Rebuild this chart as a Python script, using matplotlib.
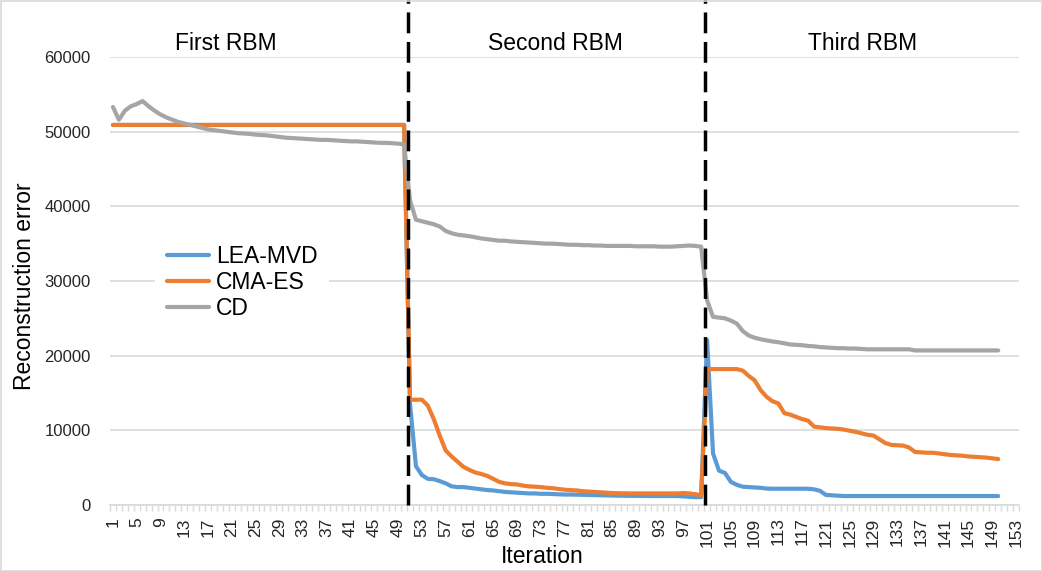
import matplotlib.pyplot as plt
import matplotlib.transforms as mtransforms
from matplotlib.patches import Rectangle
import numpy as np

plt.rcParams['font.family'] = ['Liberation Sans', 'DejaVu Sans']

# iteration numbers (category axis 1..153, data 1..150)
n_cats = 153
iterations = np.arange(1, 151)

lea_mvd = (
    [50900] * 50 +
    [13500, 5200, 4000, 3500, 3450, 3200, 2900, 2500, 2400, 2400,
     2300, 2200, 2100, 2000, 1950, 1850, 1750, 1700, 1650, 1600,
     1550, 1550, 1500, 1500, 1470, 1450, 1400, 1400, 1380, 1350,
     1340, 1320, 1300, 1280, 1260, 1250, 1240, 1220, 1210, 1200,
     1200, 1200, 1200, 1200, 1200, 1200, 1150, 1100, 1050, 1050] +
    [22100, 6900, 4600, 4300, 3100, 2700, 2450, 2400, 2350, 2300,
     2200, 2180, 2180, 2180, 2180, 2180, 2180, 2180, 2100, 1900,
     1350, 1300, 1250, 1200, 1200, 1200, 1200, 1200, 1200, 1200,
     1200, 1200, 1200, 1200, 1200, 1200, 1200, 1200, 1200, 1200,
     1200, 1200, 1200, 1200, 1200, 1200, 1200, 1200, 1200, 1200]
)

cma_es = (
    [50900] * 50 +
    [14100, 14100, 14100, 13300, 11500, 9300, 7300, 6500, 5800, 5100,
     4700, 4350, 4150, 3900, 3500, 3100, 2900, 2800, 2750, 2600,
     2500, 2450, 2400, 2300, 2250, 2150, 2050, 2000, 1950, 1850,
     1800, 1750, 1700, 1650, 1600, 1580, 1560, 1550, 1550, 1550,
     1550, 1550, 1550, 1550, 1550, 1550, 1600, 1550, 1450, 1300] +
    [18200, 18200, 18200, 18200, 18200, 18200, 18000, 17300, 16700, 15400,
     14500, 13900, 13600, 12300, 12100, 11800, 11500, 11300, 10500, 10400,
     10300, 10250, 10200, 10100, 9950, 9800, 9600, 9400, 9300, 8800,
     8300, 8050, 8000, 7950, 7700, 7100, 7050, 7000, 7000, 6900,
     6800, 6700, 6650, 6600, 6500, 6450, 6400, 6350, 6250, 6150]
)

cd = (
    [53300, 51600, 52800, 53400, 53700, 54100, 53400, 52800, 52300, 51900,
     51600, 51300, 51100, 50900, 50700, 50500, 50300, 50200, 50100, 50000,
     49900, 49800, 49750, 49700, 49600, 49550, 49500, 49400, 49300, 49200,
     49150, 49100, 49050, 49000, 48950, 48900, 48900, 48850, 48800, 48750,
     48700, 48700, 48650, 48600, 48550, 48500, 48500, 48450, 48400, 48300] +
    [40800, 38200, 38000, 37800, 37600, 37300, 36700, 36400, 36200, 36100,
     36000, 35850, 35700, 35600, 35500, 35400, 35400, 35300, 35250, 35200,
     35150, 35100, 35050, 35000, 35000, 34950, 34900, 34850, 34850, 34800,
     34800, 34750, 34750, 34700, 34700, 34700, 34700, 34700, 34650, 34650,
     34650, 34650, 34600, 34600, 34600, 34650, 34700, 34750, 34700, 34600] +
    [27400, 25200, 25100, 25000, 24700, 24300, 23300, 22700, 22400, 22200,
     22050, 21900, 21800, 21650, 21500, 21450, 21400, 21300, 21250, 21150,
     21100, 21050, 21000, 21000, 20950, 20950, 20900, 20850, 20850, 20850,
     20850, 20850, 20850, 20850, 20850, 20700, 20700, 20700, 20700, 20700,
     20700, 20700, 20700, 20700, 20700, 20700, 20700, 20700, 20700, 20700]
)

phase_bounds = [50.7, 100.7]
phase_names = ['First RBM', 'Second RBM', 'Third RBM']
phase_label_x = [20.0, 75.4, 127.2]

fig = plt.figure(figsize=(10.42, 5.71), dpi=100)
ax = fig.add_axes([110 / 1042, 66 / 571, 909 / 1042, 448 / 571])

ax.plot(iterations, lea_mvd, color='#5B9BD5', lw=3, label='LEA-MVD', solid_capstyle='round')
ax.plot(iterations, cma_es, color='#ED7D31', lw=3, label='CMA-ES', solid_capstyle='round')
ax.plot(iterations, cd, color='#A5A5A5', lw=3, label='CD', solid_capstyle='round')

ax.set_xlim(0.5, n_cats + 0.5)
ax.set_ylim(0, 60000)
ax.set_yticks(np.arange(0, 60001, 10000))
ax.set_xticks(np.arange(1, n_cats + 1, 4))
ax.set_xticks(np.arange(0.5, n_cats + 1, 1), minor=True)
ax.tick_params(axis='x', which='major', length=0, pad=9, labelsize=12.5,
               labelrotation=90, labelcolor='#262626')
ax.tick_params(axis='x', which='minor', length=4, color='#D9D9D9', width=1)
ax.tick_params(axis='y', length=0, pad=14, labelsize=12, labelcolor='#262626')
ax.grid(axis='y', color='#D9D9D9', lw=1.2)
ax.set_axisbelow(True)
for s in ['top', 'right', 'left']:
    ax.spines[s].set_visible(False)
ax.spines['bottom'].set_color('#D9D9D9')
ax.spines['bottom'].set_linewidth(1.2)

ax.set_xlabel('Iteration', fontsize=16.5, va='center')
ax.xaxis.set_label_coords(0.475, -0.114)
ax.set_ylabel('Reconstruction error', fontsize=16.5, va='center')
ax.yaxis.set_label_coords(-0.0946, 0.489)

trans = mtransforms.blended_transform_factory(ax.transData, ax.transAxes)
for xb in phase_bounds:
    ax.plot([xb, xb], [0, 1.13], transform=trans, color='black', lw=2.5,
            dashes=(6, 2.5), clip_on=False, zorder=5)
for name, xl in zip(phase_names, phase_label_x):
    ax.text(xl, 1.031, name, transform=trans, ha='center', va='center', fontsize=16.5)

leg = ax.legend(loc='center left', bbox_to_anchor=(0.05, 0.497), frameon=True,
                fontsize=16.5, handlelength=1.85, handletextpad=0.3,
                labelspacing=0.12, borderpad=0.5, borderaxespad=0)
leg.get_frame().set_edgecolor('none')
leg.get_frame().set_facecolor('white')
leg.get_frame().set_alpha(1)

fig.patches.append(Rectangle((0.5 / 1042, 0.5 / 571), 1 - 1 / 1042, 1 - 1 / 571,
                             transform=fig.transFigure, fill=False,
                             edgecolor='#D9D9D9', lw=1.2))

fig.savefig('out.png', dpi=100)
